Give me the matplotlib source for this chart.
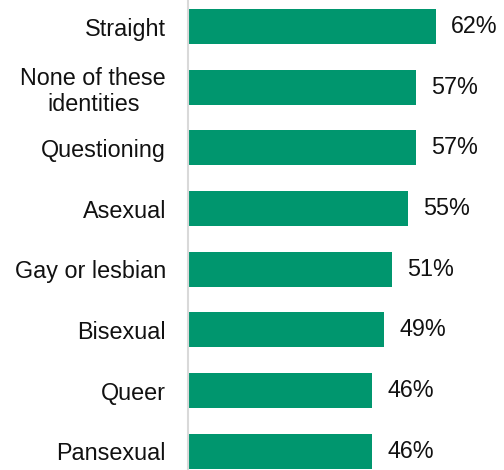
import matplotlib
matplotlib.use("Agg")
import matplotlib.pyplot as plt

categories = ["Straight", "None of these\nidentities", "Questioning", "Asexual",
              "Gay or lesbian", "Bisexual", "Queer", "Pansexual"]
values = [62, 57, 57, 55, 51, 49, 46, 46]
value_labels = ["62%", "57%", "57%", "55%", "51%", "49%", "46%", "46%"]

plt.rcParams['font.family'] = ['Liberation Sans', 'DejaVu Sans']

fig = plt.figure(figsize=(5.04, 4.70), dpi=100)
ax = fig.add_axes([188/504, 0, 316/504, 1])

y = list(range(len(categories)))
ax.barh(y, values, height=0.577, color="#00966E")
ax.set_xlim(0, 79)
ax.set_ylim(7.31, -0.437)

ax.set_yticks(y)
ax.set_yticklabels(categories, fontsize=16.8, color="#111111", multialignment="center")
ax.tick_params(axis="y", length=0, pad=15.8)
ax.set_xticks([])

for s in ["top", "right", "bottom"]:
    ax.spines[s].set_visible(False)
ax.spines["left"].set_color("#d9d9d9")
ax.spines["left"].set_linewidth(1.5)

for yi, v, lab in zip(y, values, value_labels):
    ax.annotate(lab, xy=(v, yi), xytext=(11, 0), textcoords="offset points",
                va="center", ha="left", fontsize=16.8, color="#111111")

fig.savefig("out.png", dpi=100)
